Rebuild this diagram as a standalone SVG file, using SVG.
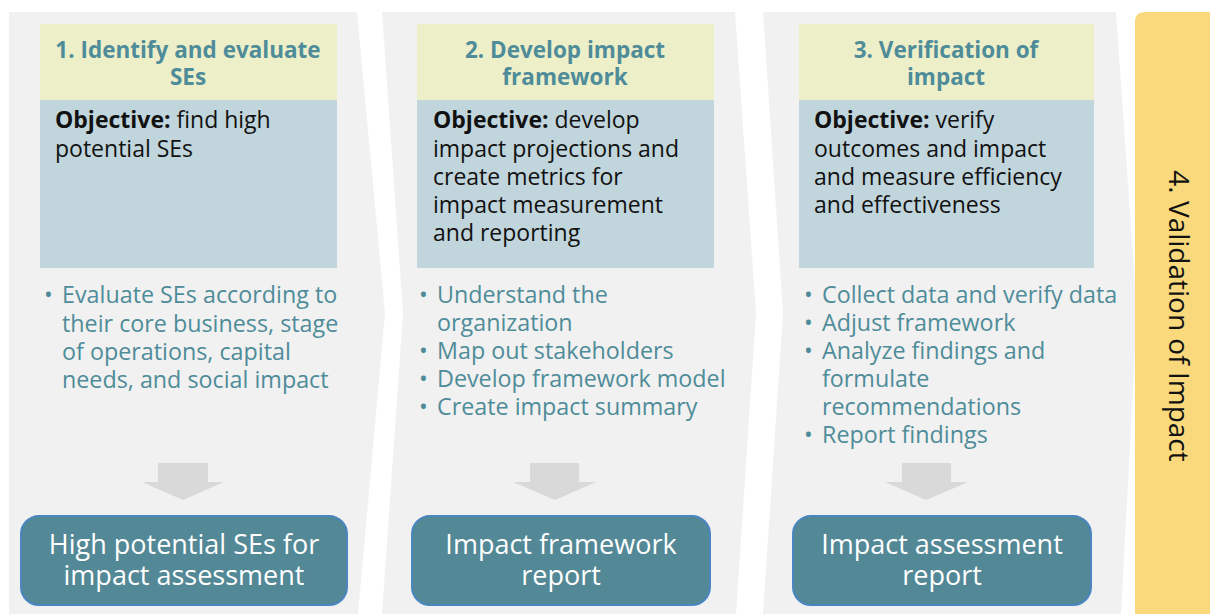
<svg xmlns="http://www.w3.org/2000/svg" width="1210" height="614" viewBox="0 0 1210 614">
<style>
.panel{fill:#f1f1f1}
.hdr{fill:#edefc9}
.obj{fill:#c1d5dc}
.ht{font-family:"Open Sans",Lato,sans-serif;font-weight:bold;font-size:22.5px;fill:#4f8c99;text-anchor:middle}
.ot{font-family:"Open Sans",Lato,sans-serif;font-size:23px;fill:#111}
.ot .b{font-weight:bold}
.bt{font-family:"Open Sans",Lato,sans-serif;font-size:23.3px;fill:#4f8c99}
.arr{fill:#d9d9d9}
.out{fill:#538896;stroke:#4a86c0;stroke-width:2}
.outt{font-family:"Open Sans",Lato,sans-serif;font-size:27px;fill:#ffffff;text-anchor:middle}
.vt{font-family:"Open Sans",Lato,sans-serif;font-size:28px;fill:#111;text-anchor:middle}
</style>
<rect width="1210" height="614" fill="#ffffff"/>
<g id="step1">
<polygon class="panel" points="9,12 357,12 385,313 358,614 9,614"/>
<rect class="hdr" x="40" y="24" width="297" height="76"/>
<rect class="obj" x="40" y="100" width="297" height="168"/>
<text class="ht" x="188" y="58">1. Identify and evaluate</text>
<text class="ht" x="188" y="85">SEs</text>
<text class="ot" x="55" y="128"><tspan class="b">Objective:</tspan> find high</text>
<text class="ot" x="55" y="157">potential SEs</text>
<text class="bt" x="44" y="303">•</text>
<text class="bt" x="62" y="303">Evaluate SEs according to</text>
<text class="bt" x="62" y="332">their core business, stage</text>
<text class="bt" x="62" y="360">of operations,  capital</text>
<text class="bt" x="62" y="388">needs, and social impact</text>
</g>
<g id="step2">
<polygon class="panel" points="382,12 735,12 756,313 736,614 382,614 403,313"/>
<rect class="hdr" x="417" y="24" width="297" height="76"/>
<rect class="obj" x="417" y="100" width="297" height="168"/>
<text class="ht" x="565" y="58">2. Develop impact</text>
<text class="ht" x="565" y="85">framework</text>
<text class="ot" x="433" y="128"><tspan class="b">Objective:</tspan> develop</text>
<text class="ot" x="433" y="157">impact projections and</text>
<text class="ot" x="433" y="185">create metrics for</text>
<text class="ot" x="433" y="213">impact measurement</text>
<text class="ot" x="433" y="241">and reporting</text>
<text class="bt" x="419" y="303">•</text>
<text class="bt" x="437" y="303">Understand the</text>
<text class="bt" x="437" y="331">organization</text>
<text class="bt" x="419" y="359">•</text>
<text class="bt" x="437" y="359">Map out stakeholders</text>
<text class="bt" x="419" y="387">•</text>
<text class="bt" x="437" y="387">Develop framework model</text>
<text class="bt" x="419" y="415">•</text>
<text class="bt" x="437" y="415">Create impact summary</text>
</g>
<g id="step3">
<polygon class="panel" points="763,12 1116,12 1137,313 1121,614 763,614 783,313"/>
<rect class="hdr" x="799" y="24" width="295" height="76"/>
<rect class="obj" x="799" y="100" width="295" height="168"/>
<text class="ht" x="946" y="58">3. Verification of</text>
<text class="ht" x="946" y="85">impact</text>
<text class="ot" x="814" y="128"><tspan class="b">Objective:</tspan> verify</text>
<text class="ot" x="814" y="157">outcomes and impact</text>
<text class="ot" x="814" y="185">and measure efficiency</text>
<text class="ot" x="814" y="213">and effectiveness</text>
<text class="bt" x="804" y="303">•</text>
<text class="bt" x="822" y="303">Collect data and verify data</text>
<text class="bt" x="804" y="331">•</text>
<text class="bt" x="822" y="331">Adjust framework</text>
<text class="bt" x="804" y="359">•</text>
<text class="bt" x="822" y="359">Analyze findings and</text>
<text class="bt" x="822" y="387">formulate</text>
<text class="bt" x="822" y="415">recommendations</text>
<text class="bt" x="804" y="443">•</text>
<text class="bt" x="822" y="443">Report findings</text>
</g>
<g id="step4">
<path d="M1145,12 H1210 V614 H1135 V22 Q1135,12 1145,12 Z" fill="#f9d97c"/>
<text class="vt" transform="translate(1169,316) rotate(90)" x="0" y="0">4. Validation of Impact</text>
</g>
<g id="connectors">
<polygon class="arr" points="158,463 208,463 208,482 224,482 183,500 142,482 158,482"/>
<polygon class="arr" points="530,463 579,463 579,482 596,482 555,500 513,482 530,482"/>
<polygon class="arr" points="902,463 951,463 951,482 968,482 926,500 885,482 902,482"/>
</g>
<g id="out1">
<rect class="out" x="21" y="516" width="326" height="89" rx="18"/>
<text class="outt" x="184" y="554">High potential SEs for</text>
<text class="outt" x="184" y="585">impact assessment</text>
</g>
<g id="out2">
<rect class="out" x="412" y="516" width="298" height="89" rx="18"/>
<text class="outt" x="561" y="554">Impact framework</text>
<text class="outt" x="561" y="585">report</text>
</g>
<g id="out3">
<rect class="out" x="793" y="516" width="298" height="89" rx="18"/>
<text class="outt" x="942" y="554">Impact assessment</text>
<text class="outt" x="942" y="585">report</text>
</g>
</svg>
